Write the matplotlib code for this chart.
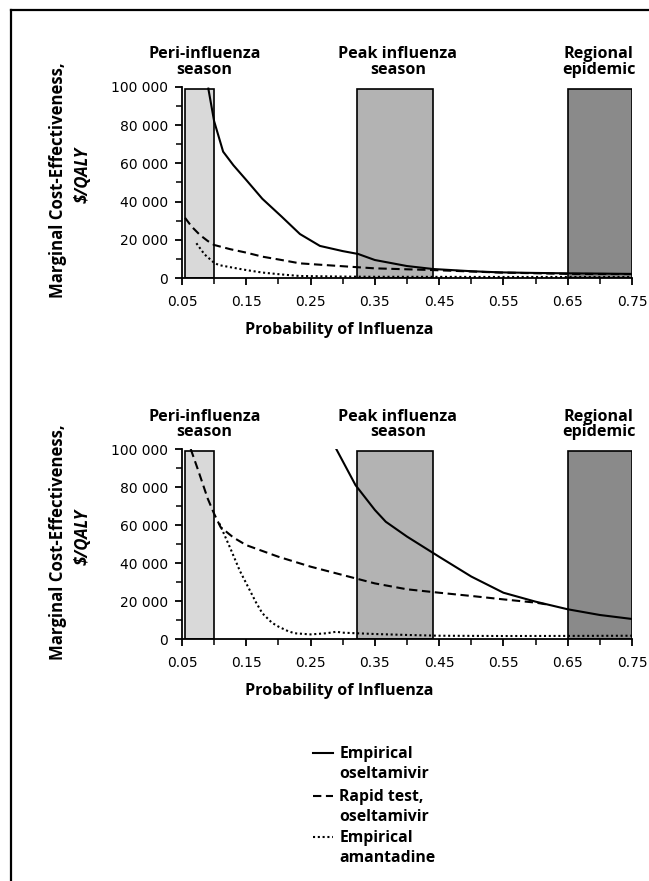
import matplotlib
matplotlib.use("Agg")
import matplotlib.pyplot as plt
from matplotlib.lines import Line2D
from matplotlib.ticker import MultipleLocator, FuncFormatter

# seasons (shaded bands)
season_labels = ["Peri-influenza\nseason", "Peak influenza\nseason", "Regional\nepidemic"]
season_start = [0.055, 0.323, 0.65]
season_end = [0.10, 0.44, 0.75]
season_label_x = [0.085, 0.386, 0.698]
season_colors = ["#d9d9d9", "#b3b3b3", "#8a8a8a"]
season_top = 98800

series_names = ["Empirical\noseltamivir", "Rapid test,\noseltamivir", "Empirical\namantadine"]

# top panel
top_emp_osel_x = [0.091, 0.10, 0.114, 0.13, 0.15, 0.175, 0.205, 0.2335, 0.2646, 0.30, 0.324, 0.35,
                  0.40, 0.4405, 0.50, 0.5446, 0.60, 0.65, 0.70, 0.75]
top_emp_osel_y = [99000, 82000, 66100, 59000, 51300, 41500, 32200, 23100, 16900, 14200, 12700, 9550,
                  6400, 4850, 3700, 3100, 2800, 2600, 2450, 2300]
top_rapid_x = [0.0547, 0.065, 0.078, 0.09, 0.10, 0.125, 0.15, 0.175, 0.205, 0.2335, 0.30, 0.35,
               0.44, 0.5446, 0.65, 0.75]
top_rapid_y = [31600, 27000, 22600, 19500, 17400, 15200, 13400, 11300, 9550, 7800, 6300, 5200,
               4300, 3000, 2300, 2200]
top_amant_x = [0.0724, 0.085, 0.10, 0.1075, 0.13, 0.15, 0.175, 0.205, 0.2335, 0.30, 0.35, 0.45, 0.55, 0.75]
top_amant_y = [18300, 12500, 8100, 6900, 5500, 4300, 3000, 2000, 1200, 900, 800, 750, 700, 700]

# bottom panel
bot_emp_osel_x = [0.29, 0.32, 0.35, 0.367, 0.40, 0.45, 0.50, 0.55, 0.60, 0.65, 0.70, 0.75]
bot_emp_osel_y = [100000, 81000, 68000, 61800, 54000, 43400, 33000, 24500, 19800, 15800, 12800, 10700]
bot_rapid_x = [0.0636, 0.075, 0.09, 0.10, 0.11, 0.13, 0.15, 0.20, 0.25, 0.30, 0.35, 0.40, 0.45,
               0.50, 0.55, 0.60, 0.62]
bot_rapid_y = [100000, 89000, 74000, 66000, 59000, 53500, 49500, 43400, 38200, 33800, 29400, 26300,
               24500, 22800, 21000, 19300, 18200]
bot_amant_x = [0.108, 0.125, 0.14, 0.15, 0.165, 0.175, 0.19, 0.20, 0.215, 0.225, 0.25, 0.275, 0.29,
               0.30, 0.35, 0.40, 0.45, 0.55, 0.65, 0.75]
bot_amant_y = [61000, 48000, 36000, 29400, 19500, 13700, 8700, 6700, 4300, 3200, 2600, 3200, 4000,
               3500, 2800, 2300, 1900, 1750, 1800, 1900]

yticks_major = [0, 20000, 40000, 60000, 80000, 100000]
xticks_major = [0.05, 0.15, 0.25, 0.35, 0.45, 0.55, 0.65, 0.75]

bold_font = "Open Sans"
tick_font = "DejaVu Sans"
styles = [dict(ls="-", lw=1.5), dict(ls=(0, (4, 2.2)), lw=1.5), dict(ls=(0, (1, 1.3)), lw=1.5)]

fig = plt.figure(figsize=(6.49, 8.81), dpi=100)

panels = [
    ([0.2804, 0.6841, 0.6934, 0.2175],
     [(top_emp_osel_x, top_emp_osel_y), (top_rapid_x, top_rapid_y), (top_amant_x, top_amant_y)]),
    ([0.2804, 0.2743, 0.6934, 0.2160],
     [(bot_emp_osel_x, bot_emp_osel_y), (bot_rapid_x, bot_rapid_y), (bot_amant_x, bot_amant_y)]),
]

for rect, series in panels:
    ax = fig.add_axes(rect)
    ax.bar(season_start, season_top, width=[e - s for s, e in zip(season_start, season_end)],
           align="edge", color=season_colors, edgecolor="black", linewidth=1.2, zorder=1)
    for (xs, ys), st in zip(series, styles):
        ax.plot(xs, ys, color="black", zorder=3, **st)
    ax.set_xlim(0.05, 0.75)
    ax.set_ylim(0, 100000)
    for s in ["top", "right"]:
        ax.spines[s].set_visible(False)
    for s in ["left", "bottom"]:
        ax.spines[s].set_linewidth(1.3)
    ax.set_xticks(xticks_major)
    ax.xaxis.set_minor_locator(MultipleLocator(0.1))
    ax.set_yticks(yticks_major)
    ax.yaxis.set_minor_locator(MultipleLocator(10000))
    ax.yaxis.set_major_formatter(FuncFormatter(lambda v, p: f"{int(v):,}".replace(",", " ")))
    ax.xaxis.set_major_formatter(FuncFormatter(lambda v, p: f"{v:.2f}"))
    ax.tick_params(which="major", length=5, width=1.3, labelsize=10)
    ax.tick_params(which="minor", length=4, width=1.1)
    ax.tick_params(axis="x", which="major", pad=7)
    ax.tick_params(axis="y", which="major", pad=5)
    for lab in ax.get_xticklabels() + ax.get_yticklabels():
        lab.set_family(tick_font)
    for lx, lab in zip(season_label_x, season_labels):
        ax.text(lx, 1.045, lab, transform=ax.get_xaxis_transform(), ha="center", va="bottom",
                fontsize=11.6, fontweight="bold", family=bold_font, linespacing=0.98)
    ax.text(-0.2756, 0.513, "Marginal Cost-Effectiveness,", transform=ax.transAxes, rotation=90,
            ha="center", va="center", fontsize=12.1, fontweight="bold", family=bold_font)
    ax.text(-0.22, 0.54, "$/QALY", transform=ax.transAxes, rotation=90, ha="center", va="center",
            fontsize=12.1, fontweight="bold", style="italic", family=bold_font)
    ax.text(0.35, -0.27, "Probability of Influenza", transform=ax.transAxes, ha="center", va="center",
            fontsize=11.6, fontweight="bold", family=bold_font)

# legend: handle beside the first line of each entry
leg_y = [753, 796, 837]
for name, st, y in zip(series_names, styles, leg_y):
    fy = 1 - y / 881
    fig.add_artist(Line2D([312.7 / 649, 332.7 / 649], [fy, fy], color="black", **st))
    for i, part in enumerate(name.split("\n")):
        fig.text(339.3 / 649, 1 - (y - 1.3 + i * 20.4) / 881, part, ha="left", va="center_baseline",
                 fontsize=11.3, fontweight="bold", family=bold_font)

# frame
fig.add_artist(Line2D([11 / 649, 11 / 649], [0, 1 - 10 / 881], color="black", lw=1.6))
fig.add_artist(Line2D([11 / 649, 1], [1 - 10 / 881, 1 - 10 / 881], color="black", lw=1.6))

fig.savefig("out.png", dpi=100)
